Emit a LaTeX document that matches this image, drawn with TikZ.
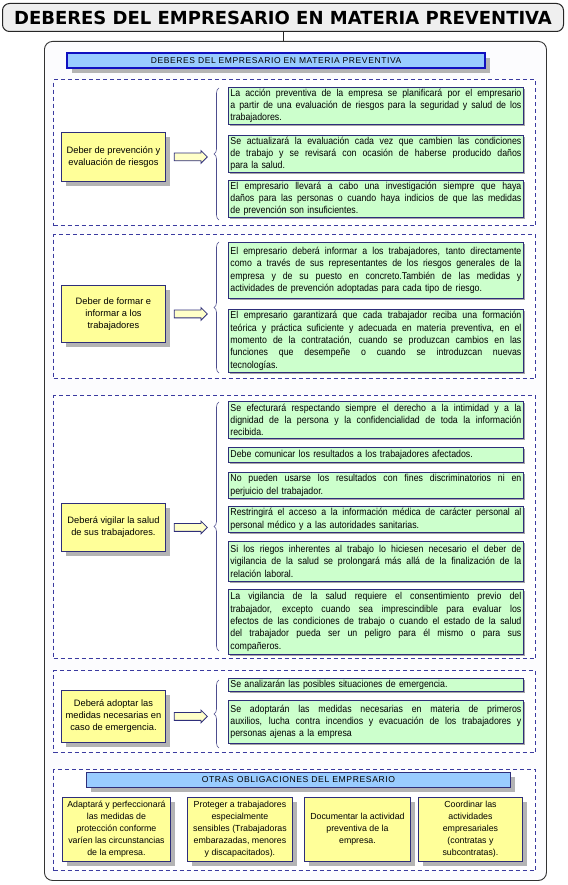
\documentclass[tikz,border=0pt]{standalone}
\usepackage{fontspec}
\usetikzlibrary{shadows,shapes.arrows,decorations.pathreplacing}
\newfontfamily\lsans{Liberation Sans}
\newfontfamily\lsansn[FakeStretch=0.88]{Liberation Sans}
\newfontfamily\lsansw[LetterSpace=7]{Liberation Sans}
\newfontfamily\djv{DejaVu Sans}
\definecolor{navyb}{HTML}{2E2E7A}
\definecolor{dashc}{HTML}{3A3AA0}
\definecolor{yellowf}{HTML}{FFFF99}
\definecolor{greenf}{HTML}{CCFFCC}
\definecolor{bluef}{HTML}{99CCFF}
\definecolor{blueb}{HTML}{1010C0}
\definecolor{shadowc}{HTML}{B4B4B4}
\definecolor{titlef}{HTML}{EFEFEF}
\definecolor{mainf}{HTML}{FCFCFE}
\definecolor{arrowf}{HTML}{FFFFC8}
\newcommand\JL[1]{\hbox to 291pt{\spaceskip=0.25em plus 1fil\relax #1}}
\newcommand\LL[1]{\hbox{#1}}
\newcommand\GT[1]{\vbox{#1}}
\begin{document}
\begin{tikzpicture}[x=1pt,y=-1pt,
  titlebox/.style={draw=black!85, fill=titlef, rounded corners=7pt, line width=1pt, anchor=north west, inner sep=0pt, font=\djv\bfseries\fontsize{18}{20}\selectfont},
  mainbox/.style={draw=black!80, fill=mainf, rounded corners=8pt, line width=0.9pt, anchor=north west, inner sep=0pt},
  sect/.style={draw=dashc, fill=white, dash pattern=on 4pt off 3pt, line width=1.1pt, anchor=north west, inner sep=0pt},
  ybox/.style={draw=navyb, fill=yellowf, line width=0.9pt, anchor=north west, align=center, inner sep=1pt,
    font=\lsans\fontsize{9.3}{12}\selectfont,
    drop shadow={shadow xshift=5pt, shadow yshift=-5pt, fill=shadowc, opacity=1}},
  bybox/.style={ybox, font=\lsans\fontsize{8.8}{12}\selectfont},
  gbox/.style={draw=navyb, fill=greenf, line width=0.8pt, anchor=north west, inner xsep=2pt, inner ysep=1.5pt,
    text width=291pt, font=\lsansn\fontsize{10}{12.3}\selectfont,
    drop shadow={shadow xshift=1.2pt, shadow yshift=-1.2pt, fill=gray!70, opacity=1}},
  blockarrow/.style={single arrow, draw=navyb, fill=arrowf, line width=0.8pt, minimum height=33pt,
    inner sep=3.5pt, single arrow head extend=2.5pt, anchor=west},
  brc/.style={decorate, decoration={brace, amplitude=5pt}, draw=navyb!85, line width=0.6pt},
  hdrbar/.style={draw=blueb, line width=2.2pt, fill=bluef, anchor=north west, inner sep=0pt,
    font=\lsansw\fontsize{8.5}{10}\selectfont,
    drop shadow={shadow xshift=5pt, shadow yshift=-5pt, fill=shadowc, opacity=1}},
  otrasbar/.style={draw=navyb, line width=0.9pt, fill=bluef, anchor=north west, inner sep=0pt,
    font=\lsansw\fontsize{8.6}{10}\selectfont,
    drop shadow={shadow xshift=5pt, shadow yshift=-5pt, fill=shadowc, opacity=1}}
]
\useasboundingbox (0,0) rectangle (567,885);

% title and main container
\node[titlebox, minimum width=561pt, minimum height=28pt] (title) at (2,3) {DEBERES DEL EMPRESARIO EN MATERIA PREVENTIVA};
\node[mainbox, minimum width=502pt, minimum height=839pt] (main) at (44,41) {};
\draw[line width=0.9pt, black!85] (title.south) -- (title.south |- main.north);

\node[hdrbar, minimum width=418pt, minimum height=15pt] (hdr) at (66,52) {DEBERES DEL EMPRESARIO EN MATERIA PREVENTIVA};

% sections
\node[sect, minimum width=482pt, minimum height=146pt] (sec1) at (53,79) {};
\node[sect, minimum width=482pt, minimum height=144pt] (sec2) at (53,234) {};
\node[sect, minimum width=482pt, minimum height=263pt] (sec3) at (53,395) {};
\node[sect, minimum width=482pt, minimum height=82pt] (sec4) at (53,670) {};
\node[sect, minimum width=482pt, minimum height=101pt] (sec5) at (53,769) {};

% section 1
\node[ybox, minimum width=104pt, minimum height=49pt] (y1) at (61,132) {Deber de prevención y\\evaluación de riesgos};
\node[blockarrow] (a1) at ([xshift=8pt]y1.east) {};
\draw[brc] (219,220) -- (219,88);
\node[gbox, minimum height=36pt] (g11) at (228,87) {\GT{\JL{La acción preventiva de la empresa se planificará por el empresario}\JL{a partir de una evaluación de riesgos para la seguridad y salud de los}\LL{trabajadores.}}};
\node[gbox, minimum height=36pt] (g12) at (228,135) {\GT{\JL{Se actualizará la evaluación cada vez que cambien las condiciones}\JL{de trabajo y se revisará con ocasión de haberse producido daños}\LL{para la salud.}}};
\node[gbox, minimum height=37pt] (g13) at (228,180) {\GT{\JL{El empresario llevará a cabo una investigación siempre que haya}\JL{daños para las personas o cuando haya indicios de que las medidas}\LL{de prevención son insuficientes.}}};

% section 2
\node[ybox, minimum width=104pt, minimum height=57pt] (y2) at (61,285) {Deber de formar e\\informar a los\\trabajadores};
\node[blockarrow] (a2) at ([xshift=8pt]y2.east) {};
\draw[brc] (219,373) -- (219,242);
\node[gbox, minimum height=56pt] (g21) at (228,242) {\GT{\JL{El empresario deberá informar a los trabajadores, tanto directamente}\JL{como a través de sus representantes de los riesgos generales de la}\JL{empresa y de su puesto en concreto.También de las medidas y}\LL{actividades de prevención adoptadas para cada tipo de riesgo.}}};
\node[gbox, minimum height=63pt] (g22) at (228,309) {\GT{\JL{El empresario garantizará que cada trabajador reciba una formación}\JL{teórica y práctica suficiente y adecuada en materia preventiva, en el}\JL{momento de la contratación, cuando se produzcan cambios en las}\JL{funciones que desempeñe o cuando se introduzcan nuevas}\LL{tecnologías.}}};

% section 3
\node[ybox, minimum width=104pt, minimum height=48pt] (y3) at (61,503) {Deberá vigilar la salud\\de sus trabajadores.};
\node[blockarrow] (a3) at ([xshift=8pt]y3.east) {};
\draw[brc] (219,651) -- (219,402);
\node[gbox, minimum height=37pt] (g31) at (228,401) {\GT{\JL{Se efecturará respectando siempre el derecho a la intimidad y a la}\JL{dignidad de la persona y la confidencialidad de toda la información}\LL{recibida.}}};
\node[gbox, minimum height=15pt] (g32) at (228,447) {\GT{\LL{Debe comunicar los resultados a los trabajadores afectados.}}};
\node[gbox, minimum height=26pt] (g33) at (228,472) {\GT{\JL{No pueden usarse los resultados con fines discriminatorios ni en}\LL{perjuicio del trabajador.}}};
\node[gbox, minimum height=26pt] (g34) at (228,506) {\GT{\JL{Restringirá el acceso a la información médica de carácter personal al}\LL{personal médico y a las autoridades sanitarias.}}};
\node[gbox, minimum height=40pt] (g35) at (228,541) {\GT{\JL{Si los riegos inherentes al trabajo lo hiciesen necesario el deber de}\JL{vigilancia de la salud se prolongará más allá de la finalización de la}\LL{relación laboral.}}};
\node[gbox, minimum height=65pt] (g36) at (228,589) {\GT{\JL{La vigilancia de la salud requiere el consentimiento previo del}\JL{trabajador, excepto cuando sea imprescindible para evaluar los}\JL{efectos de las condiciones de trabajo o cuando el estado de la salud}\JL{del trabajador pueda ser un peligro para él mismo o para sus}\LL{compañeros.}}};

% section 4
\node[ybox, minimum width=104pt, minimum height=52pt] (y4) at (61,690) {Deberá adoptar las\\medidas necesarias en\\caso de emergencia.};
\node[blockarrow] (a4) at ([xshift=8pt]y4.east) {};
\draw[brc] (219,748) -- (219,680);
\node[gbox, minimum height=13pt] (g41) at (228,678) {\GT{\LL{Se analizarán las posibles situaciones de emergencia.}}};
\node[gbox, minimum height=43pt] (g42) at (228,700) {\GT{\JL{Se adoptarán las medidas necesarias en materia de primeros}\JL{auxilios, lucha contra incendios y evacuación de los trabajadores y}\LL{personas ajenas a la empresa}}};

% section 5
\node[otrasbar, minimum width=424pt, minimum height=15pt] (otras) at (86,772) {OTRAS OBLIGACIONES DEL EMPRESARIO};
\node[bybox, minimum width=108pt, minimum height=64pt] (b1) at (62,797) {Adaptará y perfeccionará\\las medidas de\\protección conforme\\varíen las circunstancias\\de la empresa.};
\node[bybox, minimum width=105pt, minimum height=64pt] (b2) at (187,797) {Proteger a trabajadores\\especialmente\\sensibles (Trabajadoras\\embarazadas, menores\\y discapacitados).};
\node[bybox, minimum width=106pt, minimum height=64pt] (b3) at (304,797) {Documentar la actividad\\preventiva de la\\empresa.};
\node[bybox, minimum width=104pt, minimum height=64pt] (b4) at (418,797) {Coordinar las\\actividades\\empresariales\\(contratas y\\subcontratas).};
\end{tikzpicture}
\end{document}
